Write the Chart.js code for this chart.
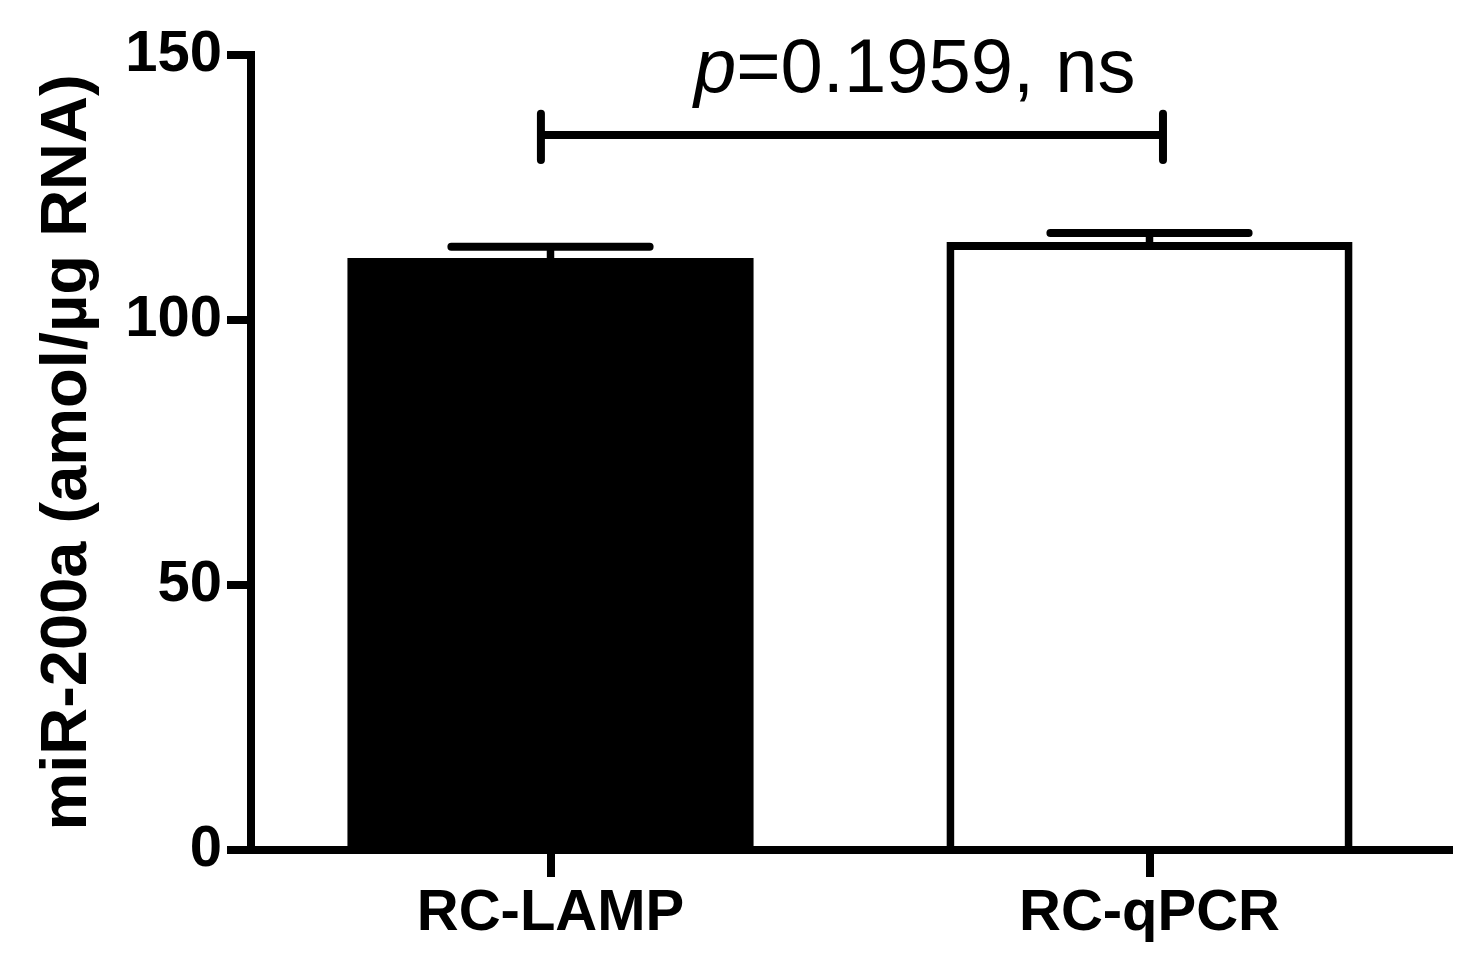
<!DOCTYPE html>
<html>
<head>
<meta charset="utf-8">
<script src="https://cdn.jsdelivr.net/npm/chart.js@4.4.0/dist/chart.umd.min.js"></script>
<style>
html, body { margin: 0; padding: 0; background: #fff; }
canvas { display: block; }
</style>
</head>
<body>
<canvas id="graph" width="1484" height="969"></canvas>
<script>
// data
const categories = ['RC-LAMP', 'RC-qPCR'];
const means = [111.7, 114.7];
const sems = [2.1, 1.7];
const barColors = ['#000000', '#ffffff'];
const yTicks = [0, 50, 100, 150];
const yTitle = 'miR-200a (amol/µg RNA)';
const pItalic = 'p';
const pRest = '=0.1959, ns';

// annotation placement (category index / y value)
const bracketFrom = -0.016;
const bracketTo = 1.0225;
const bracketLevel = 134.9;
const bracketEnds = [130.2, 138.9];
const pTextAt = [0.608, 143.0];

const fontFam = '"Liberation Sans", Arial, Helvetica, sans-serif';

const annotations = {
    id: 'annotations',
    afterDatasetsDraw(chart) {
        const ctx = chart.ctx;
        const ys = chart.scales.y;
        const meta = chart.getDatasetMeta(0);
        ctx.save();
        ctx.strokeStyle = '#000';
        // error bars (up only)
        meta.data.forEach((bar, i) => {
            const yTop = ys.getPixelForValue(means[i] + sems[i]);
            const yBar = ys.getPixelForValue(means[i]);
            ctx.lineWidth = 7.5;
            ctx.lineCap = 'butt';
            ctx.beginPath();
            ctx.moveTo(bar.x, yBar + 2);
            ctx.lineTo(bar.x, yTop);
            ctx.stroke();
            const half = bar.width * 0.244;
            ctx.lineWidth = 8;
            ctx.lineCap = 'round';
            ctx.beginPath();
            ctx.moveTo(bar.x - half, yTop);
            ctx.lineTo(bar.x + half, yTop);
            ctx.stroke();
        });
        ctx.restore();
    },
    afterDraw(chart) {
        const ctx = chart.ctx;
        const xs = chart.scales.x;
        const ys = chart.scales.y;
        const area = chart.chartArea;
        ctx.save();
        ctx.strokeStyle = '#000';
        ctx.fillStyle = '#000';

        // close the axis corners
        ctx.lineWidth = 8;
        ctx.lineCap = 'butt';
        ctx.beginPath();
        ctx.moveTo(area.left, area.top - 4);
        ctx.lineTo(area.left, area.bottom + 4);
        ctx.stroke();
        ctx.lineCap = 'round';
        ctx.beginPath();
        ctx.moveTo(area.left, area.bottom);
        ctx.lineTo(area.right, area.bottom);
        ctx.stroke();

        // significance bracket
        const x1 = xs.getPixelForValue(bracketFrom);
        const x2 = xs.getPixelForValue(bracketTo);
        const yl = ys.getPixelForValue(bracketLevel);
        ctx.lineCap = 'butt';
        ctx.beginPath();
        ctx.moveTo(x1, yl);
        ctx.lineTo(x2, yl);
        ctx.stroke();
        ctx.lineCap = 'round';
        [x1, x2].forEach(x => {
            ctx.beginPath();
            ctx.moveTo(x, ys.getPixelForValue(bracketEnds[0]));
            ctx.lineTo(x, ys.getPixelForValue(bracketEnds[1]));
            ctx.stroke();
        });

        // p-value text
        ctx.textBaseline = 'alphabetic';
        ctx.textAlign = 'left';
        ctx.font = 'italic 76px ' + fontFam;
        const wp = ctx.measureText(pItalic).width;
        ctx.font = '76px ' + fontFam;
        const wr = ctx.measureText(pRest).width;
        const cx = xs.getPixelForValue(pTextAt[0]);
        const by = ys.getPixelForValue(pTextAt[1]);
        const tx = cx - (wp + wr) / 2;
        ctx.font = 'italic 76px ' + fontFam;
        ctx.fillText(pItalic, tx, by);
        ctx.font = '76px ' + fontFam;
        ctx.fillText(pRest, tx + wp, by);

        // y axis title
        ctx.translate(86, (area.top + area.bottom) / 2);
        ctx.rotate(-Math.PI / 2);
        ctx.textAlign = 'center';
        ctx.font = 'bold 65px ' + fontFam;
        ctx.fillText(yTitle, 0, 0);
        ctx.restore();
    }
};

const ctx = document.getElementById('graph').getContext('2d');
const chart = new Chart(ctx, {
    type: 'bar',
    data: {
        labels: categories,
        datasets: [{
            data: means,
            backgroundColor: barColors,
            borderColor: '#000000',
            borderWidth: [0, 8],
            borderSkipped: 'start',
            barPercentage: 0.678,
            categoryPercentage: 1.0,
        }],
    },
    options: {
        responsive: false,
        animation: false,
        events: [],
        layout: { padding: { top: 55, right: 35, left: 0, bottom: 0 } },
        plugins: {
            legend: { display: false },
            tooltip: { enabled: false },
        },
        scales: {
            x: {
                grid: {
                    display: true,
                    offset: false,
                    drawOnChartArea: false,
                    drawTicks: true,
                    tickLength: 27,
                    lineWidth: 8,
                    color: '#000',
                },
                border: { display: true, width: 8, color: '#000' },
                ticks: {
                    color: '#000',
                    padding: 2,
                    maxRotation: 0,
                    font: { family: fontFam, size: 58, weight: 'bold' },
                },
                afterFit: function(scale) { scale.height = 969 - 850; },
            },
            y: {
                min: 0,
                max: 150,
                afterBuildTicks: function(scale) {
                    scale.ticks = yTicks.map(v => ({ value: v }));
                },
                grid: {
                    display: true,
                    drawOnChartArea: false,
                    drawTicks: true,
                    tickLength: 24,
                    lineWidth: 8,
                    color: '#000',
                },
                border: { display: true, width: 8, color: '#000' },
                ticks: {
                    color: '#000',
                    padding: 5,
                    font: { family: fontFam, size: 58, weight: 'bold' },
                },
                afterFit: function(scale) { scale.width = 251; },
            },
        },
    },
    plugins: [annotations],
});
</script>
</body>
</html>
